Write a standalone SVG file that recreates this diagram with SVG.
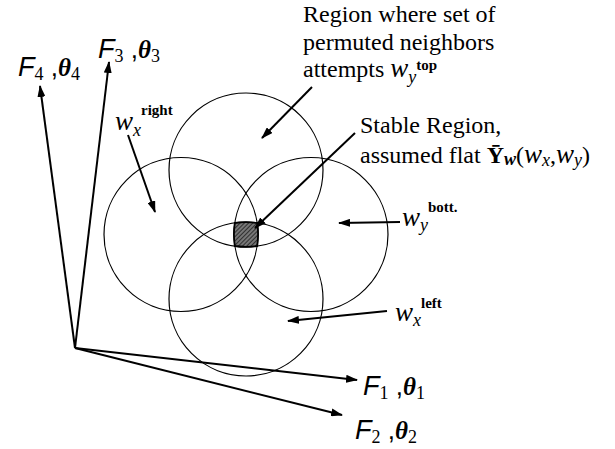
<svg xmlns="http://www.w3.org/2000/svg" width="615" height="449" viewBox="0 0 615 449">
<style>
.c{fill:none;stroke:#000;stroke-width:1.2}
.a{stroke:#000;stroke-width:2;fill:none}
.t{font-family:"Liberation Serif",serif;font-size:24px;fill:#000}
.F{font-family:"Liberation Sans",sans-serif;font-style:italic;font-size:27px}
.cm{font-family:"Liberation Sans",sans-serif;font-size:26px}
.th{font-family:"Liberation Serif",serif;font-style:italic;font-weight:bold;font-size:25px}
.sub{font-family:"Liberation Serif",serif;font-size:18px}
.sup{font-family:"Liberation Serif",serif;font-size:15px;font-weight:bold}
.w{font-family:"Liberation Serif",serif;font-style:italic;font-size:27px}
.ws{font-family:"Liberation Serif",serif;font-style:italic;font-size:18px}
</style>
<defs>
<marker id="ah" viewBox="0 0 12 8" refX="11" refY="4" markerWidth="12" markerHeight="8" markerUnits="userSpaceOnUse" orient="auto">
<path d="M0,0 L12,4 L0,8 Z" fill="#000"/>
</marker>
<pattern id="hatch" width="3" height="3" patternUnits="userSpaceOnUse" patternTransform="rotate(45)">
<rect width="3" height="3" fill="#777"/>
<line x1="0" y1="0" x2="0" y2="3" stroke="#111" stroke-width="1.4"/>
</pattern>
</defs>
<g id="circles">
<circle id="circle-top" class="c" cx="246" cy="170" r="77"/>
<circle id="circle-left" class="c" cx="181" cy="234.5" r="77"/>
<circle id="circle-right" class="c" cx="311" cy="234.5" r="77"/>
<circle id="circle-bottom" class="c" cx="246" cy="299" r="77"/>
</g>
<g id="stable-region">
<path d="M234.8 223 A77 77 0 0 1 257.2 223 A77 77 0 0 1 257.2 246 A77 77 0 0 1 234.8 246 A77 77 0 0 1 234.8 223 Z" fill="url(#hatch)" stroke="#000" stroke-width="1.8"/>
</g>
<g id="connectors">
<line class="a" x1="75" y1="348" x2="40" y2="86" marker-end="url(#ah)"/>
<line class="a" x1="75" y1="348" x2="109" y2="62" marker-end="url(#ah)"/>
<line class="a" x1="75" y1="348" x2="357" y2="380" marker-end="url(#ah)"/>
<line class="a" x1="75" y1="348" x2="342" y2="415" marker-end="url(#ah)"/>
<line class="a" x1="312" y1="87" x2="262" y2="138" marker-end="url(#ah)"/>
<line class="a" x1="355" y1="133" x2="255" y2="228" marker-end="url(#ah)"/>
<line class="a" x1="128" y1="135" x2="155" y2="212" marker-end="url(#ah)"/>
<line class="a" x1="400" y1="222" x2="339" y2="223" marker-end="url(#ah)"/>
<line class="a" x1="387" y1="311" x2="288" y2="321" marker-end="url(#ah)"/>
</g>
<g id="label-F4"><text x="18" y="76"><tspan class="F">F</tspan><tspan class="sub" dy="4">4</tspan><tspan class="cm" dy="-4"> ,</tspan><tspan class="th">θ</tspan><tspan class="sub" dy="4">4</tspan></text></g>
<g id="label-F3"><text x="98" y="58"><tspan class="F">F</tspan><tspan class="sub" dy="4">3</tspan><tspan class="cm" dy="-4"> ,</tspan><tspan class="th">θ</tspan><tspan class="sub" dy="4">3</tspan></text></g>
<g id="label-F1"><text x="363" y="395"><tspan class="F">F</tspan><tspan class="sub" dy="4">1</tspan><tspan class="cm" dy="-4"> ,</tspan><tspan class="th">θ</tspan><tspan class="sub" dy="4">1</tspan></text></g>
<g id="label-F2"><text x="355" y="439"><tspan class="F">F</tspan><tspan class="sub" dy="4">2</tspan><tspan class="cm" dy="-4"> ,</tspan><tspan class="th">θ</tspan><tspan class="sub" dy="4">2</tspan></text></g>
<g id="label-region">
<text class="t" x="303" y="22">Region where set of</text>
<text class="t" x="303" y="50">permuted neighbors</text>
<text class="t" x="303" y="77">attempts <tspan class="w">w</tspan><tspan class="ws" dy="6">y</tspan><tspan class="sup" dy="-13">top</tspan></text>
</g>
<g id="label-stable">
<text class="t" x="360" y="133">Stable Region,</text>
<text class="t" x="360" y="163">assumed flat <tspan font-weight="bold">Ȳ</tspan><tspan class="ws" font-size="15" font-weight="bold" dy="2">w</tspan><tspan dy="-2">(</tspan><tspan class="w">w</tspan><tspan class="ws" dy="3">x</tspan><tspan dy="-3">,</tspan><tspan class="w">w</tspan><tspan class="ws" dy="3">y</tspan><tspan dy="-3">)</tspan></text>
</g>
<g id="label-wx-right"><text x="115" y="130"><tspan class="w">w</tspan><tspan class="ws" dy="6">x</tspan><tspan class="sup" dy="-21">right</tspan></text></g>
<g id="label-wy-bott"><text x="402" y="226"><tspan class="w">w</tspan><tspan class="ws" dy="5">y</tspan><tspan class="sup" dy="-19">bott.</tspan></text></g>
<g id="label-wx-left"><text x="395" y="321"><tspan class="w">w</tspan><tspan class="ws" dy="5">x</tspan><tspan class="sup" dy="-18">left</tspan></text></g>
</svg>
